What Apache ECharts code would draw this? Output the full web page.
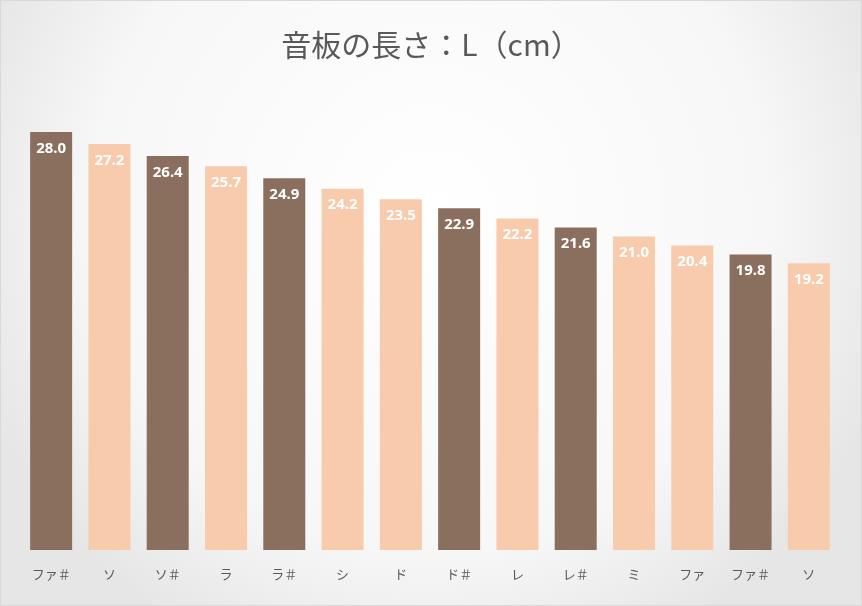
<!DOCTYPE html>
<html><head><meta charset="utf-8">
<script src="https://cdn.jsdelivr.net/npm/echarts@6/dist/echarts.min.js"></script>
<style>html,body{margin:0;padding:0;background:#fff}#c{width:862px;height:606px;box-sizing:border-box;border:1px solid #d9d9d9}</style>
</head><body><div id="c"></div>
<script>
const categories = ["ファ＃","ソ","ソ＃","ラ","ラ＃","シ","ド","ド＃","レ","レ＃","ミ","ファ","ファ＃","ソ"];
const values = [28.0,27.2,26.4,25.7,24.9,24.2,23.5,22.9,22.2,21.6,21.0,20.4,19.8,19.2];
const sharp = [true,false,true,false,true,false,false,true,false,true,false,false,true,false];
const chart = echarts.init(document.getElementById('c'));
chart.setOption({
  backgroundColor: new echarts.graphic.RadialGradient(0.5,0.35,0.8,[{offset:0,color:'#ffffff'},{offset:0.7,color:'#f7f7f7'},{offset:1,color:'#e6e6e6'}]),
  title:{text:'音板の長さ：L（cm）',left:'center',top:24,textStyle:{fontFamily:'Noto Sans CJK JP',fontSize:30,fontWeight:'normal',color:'#595959'}},
  grid:{left:21,right:23,top:131,bottom:55,containLabel:false},
  xAxis:{type:'category',data:categories,axisLine:{show:false},axisTick:{show:false},
    axisLabel:{color:'#595959',fontSize:13,margin:18,fontFamily:'Noto Sans CJK JP'}},
  yAxis:{type:'value',min:0,max:28,show:false,splitLine:{show:false}},
  series:[{type:'bar',barWidth:42,
    data:values.map((v,i)=>({value:v,itemStyle:{color:sharp[i]?'#8B6F5E':'#F8CBAD'}})),
    label:{show:true,position:'insideTop',distance:9,color:'#fff',fontWeight:'bold',fontSize:15,fontFamily:'Noto Sans',formatter:p=>p.value.toFixed(1)}}]
});
</script></body></html>
